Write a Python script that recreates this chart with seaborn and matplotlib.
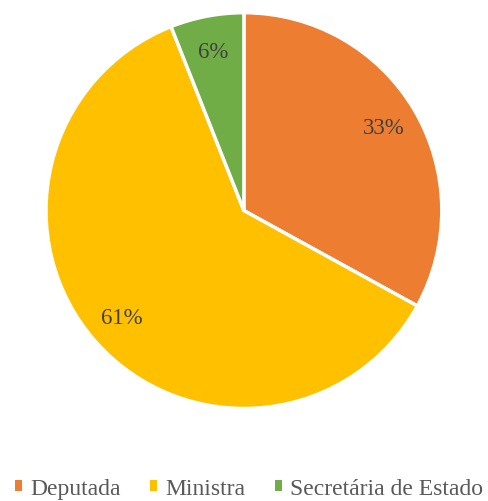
import matplotlib
matplotlib.use("Agg")
import matplotlib.pyplot as plt
import seaborn as sns
from matplotlib.patches import Patch

# data
categories = ["Deputada", "Ministra", "Secretária de Estado"]
shares = [33, 61, 6]
colors = ["#ED7D31", "#FFC000", "#70AD47"]

sns.set_style("white")
plt.rcParams['font.family'] = ['Liberation Serif', 'DejaVu Serif']

fig = plt.figure(figsize=(4.88, 5.02), dpi=100)
ax = fig.add_axes([0.0963, 0.186, 0.807, 0.785])

wedges, texts, autotexts = ax.pie(
    shares,
    colors=colors,
    startangle=90,
    counterclock=False,
    autopct="%1.0f%%",
    pctdistance=0.82,
    wedgeprops={"edgecolor": "white", "linewidth": 2.5},
    textprops={"fontsize": 16.5, "color": "#404040"},
)
ax.set_xlim(-0.995, 0.995)
ax.set_ylim(-0.995, 0.995)
ax.set_aspect("equal")

handles = [Patch(facecolor=c, edgecolor="none") for c in colors]
leg = fig.legend(handles, categories, loc="lower center", ncol=3,
                 bbox_to_anchor=(0.51, -0.038), frameon=False,
                 handlelength=0.3, handleheight=0.3, handletextpad=0.35,
                 columnspacing=1.25, fontsize=17)
for t in leg.get_texts():
    t.set_color("#595959")

fig.savefig("out.png", dpi=100)
